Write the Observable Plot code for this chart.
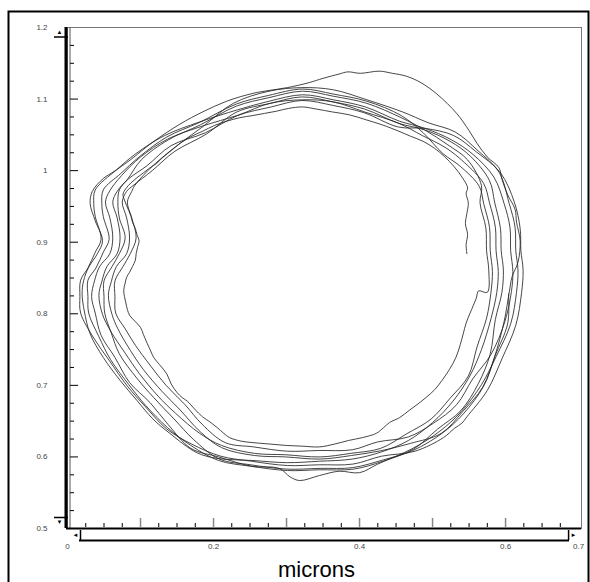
<!DOCTYPE html>
<html><head><meta charset="utf-8">
<script src="https://cdn.jsdelivr.net/npm/d3@7"></script>
<script src="https://cdn.jsdelivr.net/npm/@observablehq/plot@0.6"></script>
<style>
html,body{margin:0;padding:0;background:#fff;}
#chart svg{display:block;}
</style></head><body><div id="chart"></div>
<script>
// Trajectory, one array per revolution (x, y in microns)
const loop1 = [[0.547,0.884],[0.546,0.897],[0.548,0.911],[0.545,0.926],[0.547,0.940],[0.549,0.955],[0.546,0.968],[0.548,0.976],[0.541,0.990],[0.530,1.005],[0.516,1.020],[0.503,1.031],[0.487,1.041],[0.470,1.048],[0.454,1.055],[0.431,1.064],[0.409,1.071],[0.386,1.078],[0.363,1.082],[0.341,1.086],[0.322,1.089],[0.303,1.087],[0.286,1.083],[0.270,1.080],[0.254,1.077],[0.236,1.074],[0.218,1.069],[0.201,1.063],[0.185,1.055],[0.168,1.047],[0.154,1.038],[0.142,1.028],[0.131,1.019],[0.122,1.010],[0.113,1.004],[0.104,0.997],[0.095,0.990],[0.087,0.983],[0.080,0.975],[0.076,0.967],[0.078,0.959],[0.081,0.951],[0.084,0.944],[0.087,0.936],[0.089,0.928],[0.093,0.919],[0.095,0.911],[0.098,0.902],[0.096,0.893],[0.094,0.884],[0.093,0.875],[0.089,0.866],[0.085,0.858],[0.081,0.851],[0.079,0.843],[0.077,0.833],[0.078,0.824],[0.080,0.815],[0.082,0.806],[0.085,0.798],[0.092,0.790],[0.100,0.781],[0.104,0.771],[0.109,0.759],[0.114,0.748],[0.118,0.739],[0.126,0.729],[0.136,0.716],[0.142,0.702],[0.150,0.690],[0.157,0.683],[0.164,0.678],[0.174,0.667],[0.185,0.656],[0.195,0.649],[0.205,0.641],[0.214,0.633],[0.222,0.627],[0.238,0.622],[0.254,0.620],[0.277,0.618],[0.300,0.616],[0.322,0.615],[0.345,0.614],[0.366,0.618],[0.385,0.623],[0.404,0.627],[0.423,0.633],[0.433,0.641],[0.441,0.648],[0.455,0.655],[0.468,0.665],[0.480,0.674],[0.491,0.683],[0.503,0.694],[0.513,0.707],[0.523,0.722],[0.532,0.739],[0.538,0.757],[0.542,0.772],[0.546,0.787],[0.551,0.800],[0.556,0.812],[0.560,0.822],[0.563,0.832]];
const loop2 = [[0.575,0.830],[0.577,0.861],[0.574,0.888],[0.573,0.920],[0.565,0.955],[0.567,0.979],[0.548,1.015],[0.521,1.036],[0.489,1.057],[0.457,1.074],[0.410,1.094],[0.364,1.104],[0.322,1.111],[0.276,1.102],[0.231,1.090],[0.182,1.064],[0.138,1.043],[0.101,1.015],[0.083,0.989],[0.071,0.973],[0.069,0.955],[0.071,0.934],[0.079,0.906],[0.071,0.884],[0.061,0.866],[0.050,0.846],[0.050,0.824],[0.051,0.801],[0.060,0.773],[0.071,0.744],[0.095,0.710],[0.118,0.683],[0.146,0.653],[0.173,0.624],[0.208,0.597],[0.251,0.589],[0.300,0.583],[0.346,0.584],[0.390,0.585],[0.433,0.596],[0.473,0.609],[0.513,0.633],[0.542,0.660],[0.570,0.699],[0.585,0.740],[0.598,0.789]];
const loop3 = [[0.605,0.830],[0.609,0.852],[0.617,0.872],[0.620,0.902],[0.615,0.928],[0.613,0.946],[0.603,0.966],[0.595,0.988],[0.591,1.004],[0.575,1.019],[0.561,1.038],[0.550,1.056],[0.533,1.080],[0.506,1.107],[0.484,1.123],[0.464,1.132],[0.445,1.136],[0.427,1.139],[0.401,1.136],[0.384,1.138],[0.372,1.135],[0.350,1.129],[0.331,1.123],[0.301,1.116],[0.276,1.112],[0.254,1.108],[0.218,1.097],[0.185,1.082],[0.154,1.065],[0.117,1.040],[0.086,1.015],[0.064,0.999],[0.049,0.989],[0.034,0.971],[0.031,0.954],[0.038,0.930],[0.048,0.902],[0.041,0.884],[0.029,0.865],[0.022,0.846],[0.020,0.828],[0.023,0.804],[0.031,0.772],[0.049,0.739],[0.072,0.707],[0.095,0.679],[0.117,0.653],[0.140,0.633],[0.177,0.606],[0.205,0.598],[0.254,0.595],[0.300,0.592],[0.345,0.594],[0.390,0.597],[0.430,0.607],[0.467,0.623],[0.500,0.648],[0.528,0.678],[0.551,0.713],[0.567,0.750],[0.580,0.793]];
const loop4 = [[0.588,0.830],[0.590,0.859],[0.587,0.888],[0.586,0.921],[0.578,0.955],[0.570,0.982],[0.544,1.011],[0.518,1.032],[0.486,1.049],[0.454,1.066],[0.407,1.082],[0.364,1.096],[0.322,1.099],[0.277,1.094],[0.235,1.078],[0.184,1.062],[0.137,1.044],[0.100,1.019],[0.074,0.993],[0.058,0.972],[0.052,0.956],[0.058,0.934],[0.062,0.906],[0.058,0.884],[0.044,0.866],[0.037,0.846],[0.033,0.824],[0.038,0.801],[0.046,0.770],[0.065,0.739],[0.085,0.704],[0.113,0.676],[0.138,0.645],[0.169,0.612],[0.207,0.600],[0.252,0.587],[0.290,0.584],[0.305,0.572],[0.318,0.567],[0.345,0.574],[0.372,0.580],[0.400,0.578],[0.425,0.590],[0.473,0.612],[0.510,0.636],[0.539,0.663],[0.567,0.701],[0.587,0.740],[0.607,0.786]];
const loop5 = [[0.615,0.830],[0.617,0.861],[0.614,0.888],[0.613,0.921],[0.605,0.954],[0.591,0.998],[0.562,1.028],[0.531,1.054],[0.494,1.067],[0.459,1.082],[0.410,1.099],[0.364,1.113],[0.321,1.116],[0.276,1.111],[0.227,1.094],[0.186,1.062],[0.145,1.031],[0.113,1.003],[0.092,0.979],[0.088,0.971],[0.082,0.956],[0.088,0.934],[0.094,0.906],[0.086,0.884],[0.076,0.866],[0.065,0.846],[0.065,0.824],[0.066,0.801],[0.079,0.779],[0.093,0.756],[0.114,0.727],[0.135,0.700],[0.161,0.673],[0.184,0.646],[0.216,0.620],[0.255,0.614],[0.301,0.608],[0.344,0.609],[0.390,0.610],[0.425,0.621],[0.467,0.628],[0.501,0.647],[0.533,0.673],[0.555,0.709],[0.580,0.743],[0.599,0.789]];
const loop6 = [[0.608,0.831],[0.610,0.859],[0.607,0.888],[0.606,0.921],[0.598,0.954],[0.584,0.991],[0.555,1.023],[0.526,1.043],[0.490,1.059],[0.455,1.069],[0.408,1.089],[0.364,1.099],[0.322,1.106],[0.276,1.097],[0.233,1.085],[0.181,1.068],[0.133,1.049],[0.094,1.024],[0.067,1.001],[0.038,0.973],[0.036,0.954],[0.038,0.936],[0.046,0.904],[0.038,0.886],[0.028,0.864],[0.018,0.847],[0.017,0.824],[0.018,0.801],[0.036,0.766],[0.057,0.735],[0.082,0.699],[0.106,0.671],[0.136,0.639],[0.170,0.618],[0.210,0.601],[0.252,0.594],[0.301,0.588],[0.344,0.589],[0.391,0.590],[0.430,0.601],[0.476,0.608],[0.515,0.627],[0.530,0.640],[0.540,0.647],[0.547,0.656],[0.575,0.693],[0.595,0.737],[0.614,0.784]];
const loop7 = [[0.622,0.830],[0.624,0.861],[0.621,0.888],[0.620,0.919],[0.612,0.956],[0.593,0.997],[0.559,1.027],[0.529,1.049],[0.490,1.059],[0.453,1.061],[0.406,1.081],[0.364,1.091],[0.321,1.098],[0.279,1.089],[0.233,1.077],[0.189,1.053],[0.142,1.035],[0.109,1.007],[0.083,0.988],[0.068,0.971],[0.062,0.956],[0.068,0.934],[0.072,0.906],[0.068,0.884],[0.054,0.866],[0.047,0.845],[0.043,0.826],[0.048,0.799],[0.059,0.776],[0.079,0.745],[0.098,0.717],[0.124,0.685],[0.148,0.661],[0.181,0.633],[0.211,0.616],[0.256,0.605],[0.299,0.603],[0.346,0.600],[0.388,0.605],[0.429,0.612],[0.464,0.632],[0.498,0.653],[0.524,0.682],[0.549,0.713],[0.561,0.754],[0.574,0.794]];
const loop8 = [[0.580,0.830],[0.582,0.859],[0.579,0.888],[0.578,0.921],[0.570,0.954],[0.564,0.978],[0.538,1.006],[0.514,1.024],[0.487,1.053],[0.457,1.077],[0.410,1.097],[0.364,1.107],[0.322,1.114],[0.275,1.105],[0.231,1.093],[0.180,1.067],[0.136,1.047],[0.098,1.019],[0.073,0.996],[0.049,0.973],[0.047,0.954],[0.049,0.936],[0.057,0.904],[0.049,0.886],[0.039,0.864],[0.028,0.847],[0.028,0.824],[0.029,0.801],[0.043,0.768],[0.059,0.736],[0.084,0.701],[0.107,0.672],[0.137,0.641],[0.169,0.616],[0.207,0.595],[0.251,0.587],[0.301,0.581],[0.344,0.582],[0.392,0.583],[0.432,0.594],[0.474,0.611],[0.507,0.639],[0.539,0.665],[0.563,0.703],[0.579,0.744],[0.586,0.792]];
const loop9 = [[0.595,0.830],[0.597,0.861],[0.594,0.888],[0.593,0.919],[0.585,0.956],[0.578,0.986],[0.552,1.020],[0.524,1.041],[0.489,1.057],[0.454,1.066],[0.407,1.086],[0.364,1.096],[0.321,1.103],[0.278,1.094],[0.232,1.082],[0.190,1.051],[0.147,1.027],[0.116,1.000],[0.091,0.980],[0.081,0.971],[0.075,0.956],[0.081,0.934],[0.085,0.906],[0.081,0.884],[0.067,0.866],[0.060,0.845],[0.056,0.826],[0.061,0.799],[0.069,0.779],[0.086,0.749],[0.104,0.722],[0.130,0.691],[0.153,0.667],[0.182,0.635],[0.211,0.613],[0.256,0.602],[0.299,0.600],[0.346,0.597],[0.389,0.602],[0.431,0.609],[0.470,0.619],[0.512,0.633],[0.541,0.663],[0.569,0.698],[0.586,0.742],[0.603,0.787],[0.604,0.828]];

// Axis ticks and labels
const xTickLabels = [0, 0.2, 0.4, 0.6, 0.7];
const yTickLabels = [0.5, 0.6, 0.7, 0.8, 0.9, 1.0, 1.1, 1.2];
const xMajorTicks = [0.1, 0.2, 0.3, 0.4, 0.5, 0.6];
const xMinorTicks = [0.025,0.05,0.075,0.125,0.15,0.175,0.225,0.25,0.275,0.325,0.35,0.375,0.425,0.45,0.475,0.525,0.55,0.575,0.625,0.65,0.675];
const yMajorTicks = [0.6, 0.7, 0.8, 0.9, 1.0, 1.1];
const yMinorTicks = [0.525,0.55,0.575,0.625,0.65,0.675,0.725,0.75,0.775,0.825,0.85,0.875,0.925,0.95,0.975,1.025,1.05,1.075,1.125,1.15,1.175];
const xLabel = "microns";

const path = [loop1, loop2, loop3, loop4, loop5, loop6, loop7, loop8, loop9]
  .flat().map(([x, y]) => ({x, y}));

const W = 590, H = 582, ML = 67, MR = 9, MT = 27, MB = 54;
const PW = W - ML - MR, PH = H - MT - MB;

const chart = Plot.plot({
  width: W, height: H,
  marginLeft: ML, marginRight: MR, marginTop: MT, marginBottom: MB,
  style: {fontFamily: "'Liberation Sans', Arial, sans-serif", background: "white", overflow: "visible"},
  x: {domain: [0, 0.704], axis: null},
  y: {domain: [0.5, 1.2], axis: null},
  marks: [
    // outer border
    Plot.frame({stroke: "black", strokeWidth: 2, insetLeft: -59, insetTop: -16, insetRight: -7, insetBottom: -60}),
    // plot box
    Plot.frame({stroke: "#777", strokeWidth: 1}),
    // trajectory
    Plot.line(path, {x: "x", y: "y", stroke: "#262626", strokeWidth: 0.85, curve: "catmull-rom"}),
    // left axis (double bar)
    Plot.ruleX([0], {stroke: "black", strokeWidth: 3, dx: -1.5}),
    Plot.ruleX([0], {stroke: "#555", strokeWidth: 1, dx: 2.5}),
    // bottom axis
    Plot.ruleY([0.5], {stroke: "black", strokeWidth: 2, insetLeft: -1}),
    // inward ticks
    Plot.tickY(yMajorTicks, {y: d => d, stroke: "black", insetLeft: 3, insetRight: PW - 11}),
    Plot.tickY(yMinorTicks, {y: d => d, stroke: "black", insetLeft: 3, insetRight: PW - 7}),
    Plot.tickX(xMajorTicks, {x: d => d, stroke: "#888", strokeWidth: 1.5, insetTop: PH - 10, insetBottom: 1}),
    Plot.tickX(xMinorTicks, {x: d => d, stroke: "black", insetTop: PH - 5, insetBottom: 1}),
    // tick labels
    Plot.axisY(yTickLabels, {label: null, tickSize: 0, tickPadding: 20, fontSize: 8, color: "#444", tickFormat: d => String(d)}),
    Plot.axisX(xTickLabels, {label: null, tickSize: 0, tickPadding: 15, fontSize: 8, color: "#444", tickFormat: d => String(d)}),
    // scroll-bar decorations
    Plot.ruleY([1.2], {stroke: "black", strokeWidth: 1.5, dy: 9.5, insetLeft: -13, insetRight: PW - 1}),
    Plot.text(["▲"], {text: d => d, frameAnchor: "top-left", textAnchor: "middle", lineAnchor: "middle", dx: -8, dy: 5, fontSize: 6, fill: "black"}),
    Plot.ruleY([0.5], {stroke: "black", strokeWidth: 1.5, dy: -11, insetLeft: -13, insetRight: PW - 1}),
    Plot.text(["▼"], {text: d => d, frameAnchor: "bottom-left", textAnchor: "middle", lineAnchor: "middle", dx: -8, dy: -6, fontSize: 6, fill: "black"}),
    Plot.ruleY([0.5], {stroke: "black", strokeWidth: 2, dy: 12, insetLeft: 12, insetRight: 12}),
    Plot.ruleX([0], {stroke: "black", strokeWidth: 1.5, dx: 13, insetTop: PH + 2, insetBottom: -12}),
    Plot.ruleX([0.7], {stroke: "black", strokeWidth: 1.5, dx: -10, insetTop: PH + 2, insetBottom: -12}),
    Plot.text(["◄"], {text: d => d, frameAnchor: "bottom-left", textAnchor: "middle", lineAnchor: "middle", dx: 8, dy: 7, fontSize: 6, fill: "black"}),
    Plot.text(["►"], {text: d => d, frameAnchor: "bottom-right", textAnchor: "middle", lineAnchor: "middle", dx: -8, dy: 7, fontSize: 6, fill: "black"}),
    // axis title
    Plot.text([xLabel], {text: d => d, frameAnchor: "bottom", lineAnchor: "bottom", dx: -8, dy: 48, fontSize: 22, fill: "black"})
  ]
});
document.getElementById("chart").appendChild(chart);
</script>
</body></html>
